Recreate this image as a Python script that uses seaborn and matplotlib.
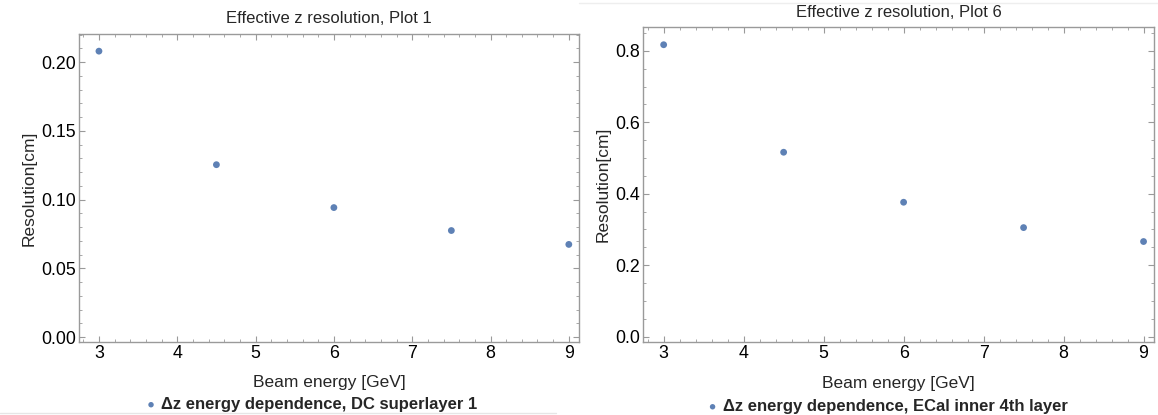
import numpy as np
import pandas as pd
import matplotlib
matplotlib.use("Agg")
import matplotlib.pyplot as plt
from matplotlib.ticker import MultipleLocator
from matplotlib.lines import Line2D
import seaborn as sns

# ------------------------------
# Podaci (ocitano sa slike)
# ------------------------------
beam_energy = [3.0, 4.5, 6.0, 7.5, 9.0]
res_dc_sl1 = [0.2080, 0.1254, 0.0942, 0.0775, 0.0674]
res_ecal_l4 = [0.817, 0.516, 0.376, 0.305, 0.266]

titles = ["Effective z resolution, Plot 1", "Effective z resolution, Plot 6"]
legend_labels = ["\u0394z energy dependence, DC superlayer 1",
                 "\u0394z energy dependence, ECal inner 4th layer"]
x_label = "Beam energy [GeV]"
y_label = "Resolution[cm]"

point_color = "#5E81B5"
frame_color = "#9A9A9A"

sns.set_style("ticks")
plt.rcParams['font.family'] = ['Liberation Sans', 'DejaVu Sans']

fig = plt.figure(figsize=(11.58, 4.15), dpi=100)

panels = [
    # rect, data, ylim, major, minor, ylabel x, legend x, title y, tick format
    ([0.0682, 0.1759, 0.4318, 0.7429], res_dc_sl1, (-0.0036, 0.2207), 0.05, 0.01, -0.10, 0.462, 1.049, "{:.2f}"),
    ([0.5555, 0.1747, 0.4410, 0.7614], res_ecal_l4, (-0.0167, 0.868), 0.2, 0.05, -0.078, 0.475, 1.044, "{:.1f}"),
]

for i, (rect, values, ylim, major, minor, ylab_x, leg_x, title_y, fmt) in enumerate(panels):
    ax = fig.add_axes(rect)
    df = pd.DataFrame({"energy": beam_energy, "res": values})
    sns.scatterplot(data=df, x="energy", y="res", ax=ax, color=point_color,
                    s=24, edgecolor="none", label=legend_labels[i])

    ax.set_xlim(2.745, 9.13)
    ax.set_ylim(*ylim)
    ax.xaxis.set_major_locator(MultipleLocator(1))
    ax.xaxis.set_minor_locator(MultipleLocator(0.2))
    ax.yaxis.set_minor_locator(MultipleLocator(minor))
    yt = np.arange(0, ylim[1], major)
    ax.set_yticks(yt)
    ax.set_yticklabels([fmt.format(v) for v in yt])

    for side in ax.spines.values():
        side.set_color(frame_color)
        side.set_linewidth(1.0)
    ax.tick_params(which="both", direction="in", top=True, right=True,
                   color=frame_color, labelsize=12.8, labelcolor="black")
    ax.tick_params(which="major", length=4, width=0.8, pad=2)
    ax.tick_params(which="minor", length=2, width=0.6)

    ax.text(0.5, title_y, titles[i], transform=ax.transAxes, ha="center",
            va="center", fontsize=12)
    ax.set_xlabel(x_label, fontsize=12.5, va="center")
    ax.xaxis.set_label_coords(0.5, -0.13)
    ax.set_ylabel(y_label, fontsize=12.5, va="center")
    ax.yaxis.set_label_coords(ylab_x, 0.5)

    ax.legend(loc="center", bbox_to_anchor=(leg_x, -0.203), frameon=False,
              prop={"weight": "bold", "size": 12}, handletextpad=0.1,
              markerscale=0.8, borderpad=0, handlelength=1.0)

# tanke linije od snimka ekrana
fig.add_artist(Line2D([0.0, 0.48], [0.005, 0.005], color="#E6E6E6", lw=1))
fig.add_artist(Line2D([0.5, 1.0], [0.993, 0.993], color="#EEEEEE", lw=1))

fig.savefig("out.png", dpi=100)
